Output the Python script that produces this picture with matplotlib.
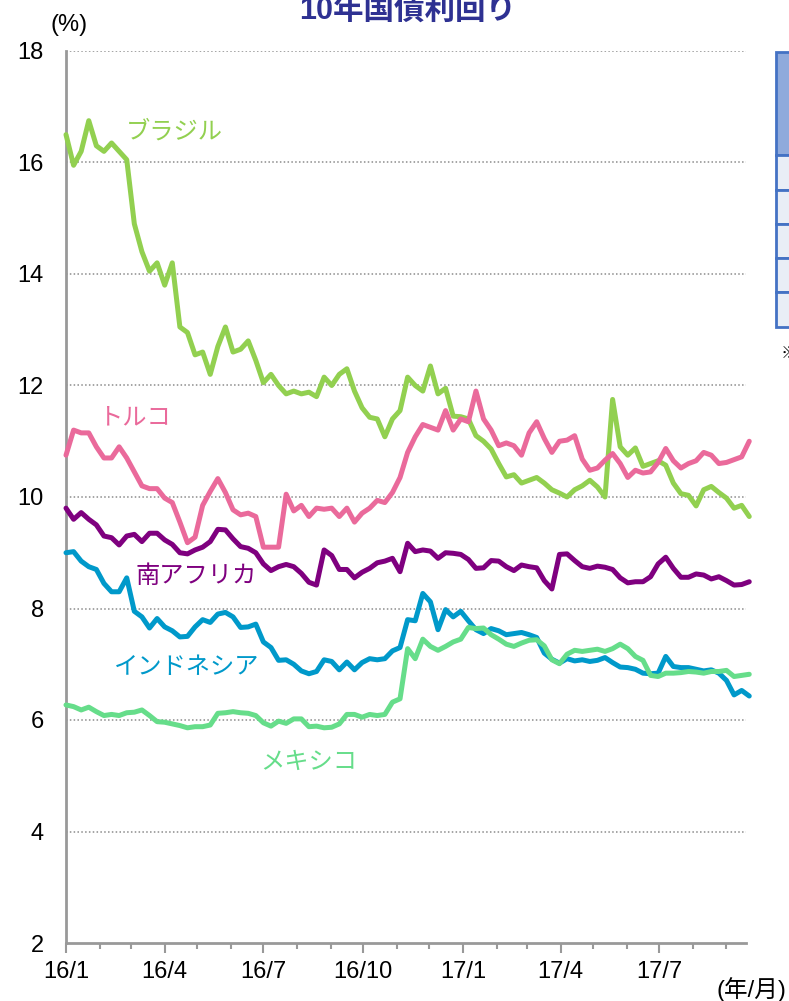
import pandas as pd
import matplotlib.pyplot as plt
import matplotlib.dates as mdates
from matplotlib.patches import Rectangle

plt.rcParams['font.family'] = ['Liberation Sans', 'Noto Sans CJK JP', 'DejaVu Sans']

# weekly observations, 2016/1/1 - 2017/9/22
dates = pd.date_range('2016-01-01', periods=91, freq='7D')

brazil = [16.5, 15.95, 16.2, 16.75, 16.3, 16.2, 16.35, 16.2, 16.05, 14.9,
          14.4, 14.05, 14.2, 13.8, 14.2, 13.05, 12.95, 12.55, 12.6, 12.2,
          12.7, 13.05, 12.6, 12.65, 12.8, 12.45, 12.05, 12.2, 12.0, 11.85,
          11.9, 11.85, 11.88, 11.8, 12.15, 12.0, 12.2, 12.3, 11.9, 11.6,
          11.43, 11.4, 11.08, 11.4, 11.55, 12.15, 12.0, 11.9, 12.35, 11.85,
          11.95, 11.45, 11.44, 11.4, 11.1, 11.0, 10.86, 10.6, 10.36, 10.4,
          10.25, 10.3, 10.35, 10.25, 10.13, 10.07, 10.0, 10.13, 10.2, 10.3,
          10.18, 10.0, 11.75, 10.9, 10.75, 10.88, 10.55, 10.6, 10.65, 10.57,
          10.25, 10.06, 10.03, 9.84, 10.13, 10.19, 10.08, 9.98, 9.8, 9.85,
          9.65]
turkey = [10.75, 11.2, 11.15, 11.15, 10.9, 10.7, 10.7, 10.9, 10.7, 10.45,
          10.2, 10.15, 10.15, 9.98, 9.9, 9.55, 9.18, 9.28, 9.85, 10.1,
          10.33, 10.08, 9.77, 9.68, 9.71, 9.65, 9.1, 9.1, 9.1, 10.05,
          9.75, 9.85, 9.65, 9.8, 9.78, 9.8, 9.65, 9.8, 9.55, 9.71,
          9.8, 9.94, 9.9, 10.08, 10.35, 10.8, 11.08, 11.3, 11.25, 11.2,
          11.55, 11.2, 11.4, 11.35, 11.9, 11.4, 11.2, 10.92, 10.97, 10.92,
          10.75, 11.15, 11.35, 11.05, 10.8, 11.0, 11.02, 11.1, 10.68, 10.48,
          10.52, 10.66, 10.78, 10.6, 10.35, 10.48, 10.43, 10.45, 10.62, 10.87,
          10.65, 10.52, 10.6, 10.65, 10.8, 10.75, 10.6, 10.62, 10.67, 10.72,
          11.0]
south_africa = [9.8, 9.6, 9.72, 9.6, 9.5, 9.3, 9.27, 9.14, 9.3, 9.33,
                9.2, 9.35, 9.35, 9.23, 9.15, 9.0, 8.98, 9.05, 9.1, 9.2,
                9.42, 9.41, 9.25, 9.11, 9.08, 9.0, 8.8, 8.68, 8.75, 8.79,
                8.75, 8.63, 8.47, 8.42, 9.05, 8.95, 8.7, 8.7, 8.55, 8.65,
                8.72, 8.82, 8.85, 8.9, 8.66, 9.17, 9.02, 9.05, 9.03, 8.9,
                9.0, 8.99, 8.97, 8.88, 8.72, 8.73, 8.86, 8.85, 8.75, 8.68,
                8.78, 8.75, 8.73, 8.5, 8.35, 8.97, 8.98, 8.86, 8.75, 8.72,
                8.76, 8.74, 8.7, 8.55, 8.46, 8.48, 8.48, 8.57, 8.8, 8.92,
                8.72, 8.56, 8.56, 8.62, 8.6, 8.53, 8.57, 8.5, 8.42, 8.43,
                8.48]
indonesia = [9.0, 9.02, 8.85, 8.75, 8.7, 8.45, 8.3, 8.3, 8.55, 7.95,
             7.85, 7.65, 7.82, 7.67, 7.6, 7.49, 7.5, 7.67, 7.8, 7.75,
             7.9, 7.93, 7.85, 7.66, 7.67, 7.72, 7.4, 7.3, 7.07, 7.08,
             7.0, 6.88, 6.83, 6.87, 7.08, 7.05, 6.9, 7.04, 6.9, 7.03,
             7.1, 7.08, 7.1, 7.24, 7.3, 7.8, 7.78, 8.27, 8.12, 7.62,
             7.98, 7.85, 7.95, 7.78, 7.62, 7.55, 7.64, 7.6, 7.53, 7.55,
             7.57, 7.53, 7.48, 7.2, 7.09, 7.02, 7.1, 7.06, 7.08, 7.05,
             7.07, 7.12, 7.03, 6.95, 6.94, 6.91, 6.84, 6.83, 6.84, 7.14,
             6.96, 6.94, 6.94, 6.91, 6.88, 6.9, 6.84, 6.71, 6.45, 6.53,
             6.43]
mexico = [6.27, 6.24, 6.18, 6.23, 6.15, 6.08, 6.1, 6.08, 6.13, 6.14,
          6.18, 6.08, 5.97, 5.96, 5.93, 5.9, 5.86, 5.88, 5.88, 5.91,
          6.12, 6.13, 6.15, 6.13, 6.12, 6.08, 5.95, 5.89, 5.98, 5.94,
          6.02, 6.02, 5.88, 5.89, 5.86, 5.87, 5.93, 6.1, 6.1, 6.05,
          6.1, 6.08, 6.1, 6.32, 6.38, 7.28, 7.1, 7.45, 7.32, 7.25,
          7.32, 7.4, 7.45, 7.66, 7.64, 7.65, 7.53, 7.45, 7.36, 7.32,
          7.38, 7.43, 7.44, 7.33, 7.08, 7.01, 7.18, 7.25, 7.23, 7.25,
          7.27, 7.23, 7.28, 7.36, 7.28, 7.14, 7.07, 6.8, 6.78, 6.84,
          6.84, 6.85, 6.87, 6.86, 6.84, 6.87, 6.87, 6.89, 6.78, 6.8,
          6.82]

names = ['ブラジル', 'トルコ', '南アフリカ', 'インドネシア', 'メキシコ']
series = [brazil, turkey, south_africa, indonesia, mexico]
colors = ['#92D050', '#EA6A9B', '#7F007F', '#0099CA', '#66DD8A']
# label anchor (date, value) for each country name
label_pos = [('2016-04-10', 16.55), ('2016-03-05', 11.42), ('2016-04-30', 8.58),
             ('2016-04-21', 6.95), ('2016-08-12', 5.25)]
y_ticks = [2, 4, 6, 8, 10, 12, 14, 16, 18]

fig = plt.figure(figsize=(7.89, 10.01), dpi=100)
ax = fig.add_axes([66 / 789, 1 - 943 / 1001, (746 - 66) / 789, 892 / 1001])

for vals, col in zip(series, colors):
    ax.plot(dates, vals, color=col, lw=3.6, solid_joinstyle='round',
            solid_capstyle='round', clip_on=False, zorder=3)

for name, col, (d, v) in zip(names, colors, label_pos):
    ax.text(pd.Timestamp(d), v, name, color=col, fontsize=17.5,
            family=['Noto Sans CJK JP'], ha='center', va='center')

ax.set_xlim(pd.Timestamp('2016-01-01'), pd.Timestamp('2017-09-19'))
ax.set_ylim(2, 18)
ax.set_yticks(y_ticks)
for y in y_ticks[1:]:
    ax.axhline(y, color='#8c8c8c', lw=1.1, ls=(0, (1, 1.5)), zorder=1)

ax.xaxis.set_major_locator(mdates.MonthLocator(bymonth=[1, 4, 7, 10]))
ax.xaxis.set_minor_locator(mdates.MonthLocator())
ax.xaxis.set_major_formatter(
    plt.FuncFormatter(lambda x, p: '%d/%d' % (mdates.num2date(x).year % 100,
                                              mdates.num2date(x).month)))
ax.tick_params(axis='x', which='major', length=7, width=1.5, color='#999999',
               labelsize=17, pad=6)
ax.tick_params(axis='x', which='minor', length=4, width=1.5, color='#999999')
ax.tick_params(axis='y', length=0, labelsize=17, pad=16)

for s in ['top', 'right']:
    ax.spines[s].set_visible(False)
for s in ['left', 'bottom']:
    ax.spines[s].set_color('#999999')
    ax.spines[s].set_linewidth(2)

fig.text(408 / 789, 1 - 19 / 1001, '10年国債利回り', color='#2E3192', fontsize=22,
         fontweight='bold', ha='center', va='baseline')
fig.text(50 / 789, 1 - 25 / 1001, '(%)', fontsize=17, ha='left', va='center')
fig.text(716 / 789, 1 - 990 / 1001, '(年/月)', fontsize=17, ha='left', va='center')

# side table, mostly outside the canvas
rows = [52, 155, 190, 224, 258, 292, 327]
for i in range(len(rows) - 1):
    top, bot = rows[i], rows[i + 1]
    fig.patches.append(Rectangle((776 / 789, 1 - bot / 1001), 0.2, (bot - top) / 1001,
                                 transform=fig.transFigure,
                                 facecolor='#8FAADC' if i == 0 else '#E9EEF6',
                                 edgecolor='#4472C4', lw=2))
fig.text(781 / 789, 1 - 353 / 1001, '※', fontsize=12, ha='left', va='center')

fig.savefig('out.png', dpi=100)
